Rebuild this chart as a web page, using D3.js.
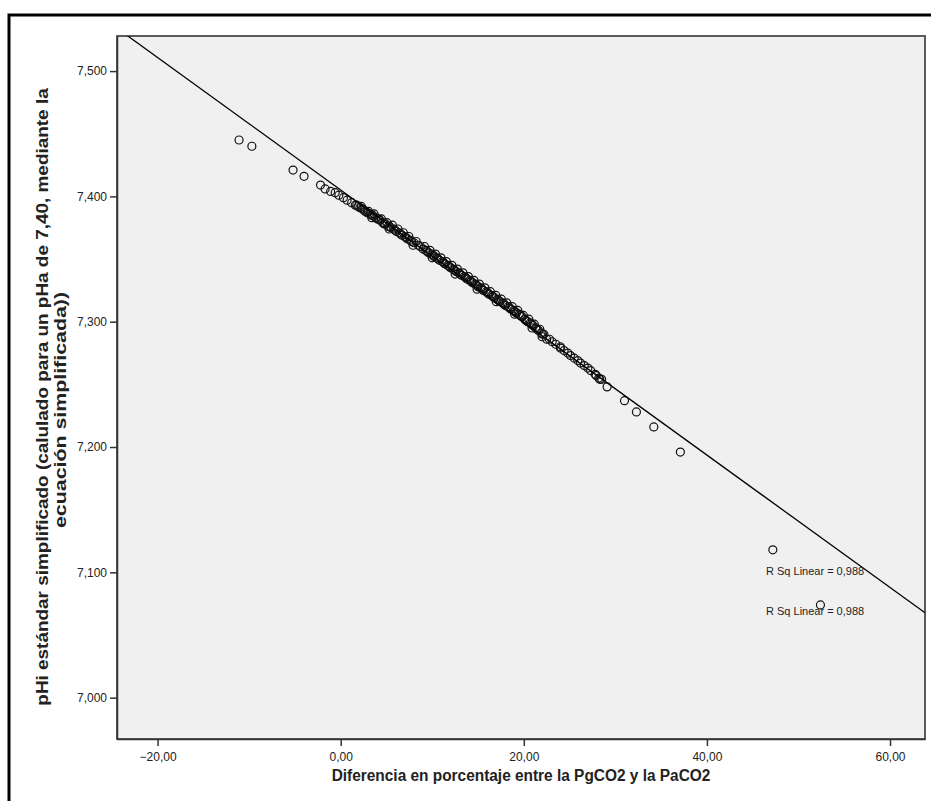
<!DOCTYPE html>
<html>
<head>
<meta charset="utf-8">
<script src="https://cdn.jsdelivr.net/npm/d3@7"></script>
<style>
  body { margin:0; background:#fff; }
  text { font-family: "Liberation Sans", Arial, sans-serif; }
</style>
</head>
<body>
<svg id="chart" width="931" height="801"></svg>
<script>
// percent difference between PgCO2 and PaCO2 (x) and simplified pHi (y)
const diffPct = [
  -11.1, -9.7, -5.2, -4.0, -2.2, -1.7, -1.1, -0.6, -0.2, 0.3, 0.7, 1.2,
  1.6, 1.9, 2.1, 2.4, 2.7, 2.9, 3.2, 3.5, 3.8, 4.0, 4.3, 4.6, 4.9, 5.2,
  5.5, 5.8, 6.1, 6.4, 6.7, 7.0, 7.3, 7.6, 8.0, 8.5, 9.0, 9.3, 9.6, 9.9,
  10.2, 10.5, 10.8, 11.1, 11.4, 11.7, 12.0, 12.3, 12.6, 12.9, 13.2, 13.5,
  13.8, 14.1, 14.4, 14.7, 15.0, 15.3, 15.6, 15.9, 16.2, 16.5, 16.8, 17.1,
  17.4, 17.7, 18.0, 18.3, 18.6, 18.9, 19.2, 19.5, 19.8, 20.1, 20.4, 20.7,
  21.0, 21.3, 21.6, 21.9, 22.2, 22.8, 23.5, 24.4, 25.1, 25.9, 26.6, 27.3,
  28.2, 28.5, 29.1, 31.0, 32.3, 34.2, 37.1, 47.2, 52.4,
  2.25, 3.05, 3.65, 4.45, 5.05, 5.65, 6.25, 6.85, 7.45, 8.25, 9.15, 9.75,
  10.35, 10.95, 11.55, 12.15, 12.75, 13.35, 13.95, 14.55, 15.15, 15.75,
  16.35, 16.95, 17.55, 18.15, 18.75, 19.35, 19.95, 20.55, 21.15, 21.75,
  3.4, 5.3, 7.9, 10.0, 12.5, 14.9, 17.0, 19.0, 20.9, 22.0, 22.5, 24.0, 26.2, 27.8,
  1.75, 2.55, 3.35, 4.15, 4.75, 5.35, 5.95, 6.55, 7.15, 7.75, 8.7, 9.45,
  10.1, 10.65, 11.25, 11.85, 12.45, 13.05, 13.65, 14.25, 14.85, 15.45,
  16.05, 16.65, 17.25, 17.85, 18.45, 19.05, 19.65, 20.25, 20.85, 21.45,
  22.05, 23.1, 24.0, 24.8, 25.5, 27.0, 27.9, 28.3
];
const pHi = [
  7.445, 7.440, 7.421, 7.416, 7.409, 7.406, 7.404, 7.403, 7.401, 7.399, 7.397, 7.395,
  7.393, 7.392, 7.391, 7.390, 7.388, 7.387, 7.386, 7.385, 7.383, 7.382, 7.381, 7.379, 7.378, 7.376,
  7.375, 7.374, 7.372, 7.371, 7.369, 7.368, 7.366, 7.365, 7.363, 7.361, 7.358, 7.357, 7.355, 7.354,
  7.352, 7.351, 7.349, 7.348, 7.346, 7.345, 7.343, 7.342, 7.340, 7.339, 7.337, 7.336,
  7.334, 7.333, 7.331, 7.330, 7.328, 7.327, 7.325, 7.324, 7.322, 7.321, 7.319, 7.318,
  7.316, 7.315, 7.313, 7.312, 7.310, 7.309, 7.307, 7.306, 7.304, 7.302, 7.300, 7.299,
  7.297, 7.295, 7.293, 7.291, 7.290, 7.286, 7.282, 7.277, 7.273, 7.269, 7.265, 7.261,
  7.255, 7.254, 7.248, 7.237, 7.228, 7.216, 7.196, 7.118, 7.074,
  7.392, 7.388, 7.386, 7.382, 7.379, 7.377, 7.374, 7.371, 7.368, 7.364, 7.360, 7.357,
  7.354, 7.351, 7.348, 7.345, 7.342, 7.339, 7.336, 7.333, 7.330, 7.327,
  7.324, 7.321, 7.318, 7.315, 7.312, 7.309, 7.305, 7.302, 7.298, 7.294,
  7.383, 7.374, 7.361, 7.351, 7.338, 7.326, 7.316, 7.306, 7.295, 7.288, 7.286, 7.279, 7.267, 7.258,
  7.393, 7.389, 7.385, 7.382, 7.378, 7.376, 7.373, 7.370, 7.367, 7.364, 7.360, 7.356,
  7.353, 7.350, 7.347, 7.344, 7.341, 7.338, 7.335, 7.332, 7.329, 7.326,
  7.323, 7.320, 7.317, 7.314, 7.311, 7.308, 7.305, 7.301, 7.298, 7.294,
  7.290, 7.284, 7.280, 7.275, 7.271, 7.263, 7.257, 7.254
];
const xTicks = [-20, 0, 20, 40, 60];
const yTicks = [7.0, 7.1, 7.2, 7.3, 7.4, 7.5];
const fit = { intercept: 7.4051, slope: -0.005287 };
const rsqLabels = ["R Sq Linear = 0,988", "R Sq Linear = 0,988"];

const P = { left:117, right:925, top:36, bottom:739 };

const x = d3.scaleLinear().domain([-24.43, 63.82]).range([P.left, P.right]);
const y = d3.scaleLinear().domain([6.967, 7.528]).range([P.bottom, P.top]);

const fmt2 = d => d3.format(".2f")(d).replace(".", ",");
const fmt3 = d => d3.format(".3f")(d).replace(".", ",");

const svg = d3.select("#chart");

// text squeezed/stretched along its run to a given length
function fitText(parent, str, size, len, tf) {
  const g = parent.append("g").attr("transform", tf);
  const t = g.append("text")
    .attr("text-anchor", "middle")
    .attr("font-size", size).attr("font-weight", "bold").attr("fill", "#222")
    .text(str);
  const w = t.node().getComputedTextLength();
  t.attr("transform", `scale(${len / w},1)`);
  return t;
}

// outer frame
svg.append("rect")
  .attr("x", 9).attr("y", 15).attr("width", 1000).attr("height", 1000)
  .attr("fill", "none").attr("stroke", "#000").attr("stroke-width", 3);

// plot area
svg.append("rect")
  .attr("x", P.left).attr("y", P.top)
  .attr("width", P.right - P.left).attr("height", P.bottom - P.top)
  .attr("fill", "#f0f0f0").attr("stroke", "#4a4a4a").attr("stroke-width", 1.8);

svg.append("clipPath").attr("id", "clip")
  .append("rect")
  .attr("x", P.left).attr("y", P.top)
  .attr("width", P.right - P.left).attr("height", P.bottom - P.top);

// axes
svg.append("g")
  .attr("transform", `translate(0,${P.bottom})`)
  .call(d3.axisBottom(x).tickValues(xTicks).tickFormat(fmt2).tickSizeInner(7).tickSizeOuter(0).tickPadding(6))
  .call(g => g.select(".domain").attr("stroke", "#333").attr("stroke-width", 1.5))
  .call(g => g.selectAll(".tick line").attr("stroke", "#333").attr("stroke-width", 1.5))
  .call(g => g.selectAll("text").attr("font-size", 12).attr("fill", "#222")
    .attr("font-family", "'Liberation Sans', Arial, sans-serif"));

svg.append("g")
  .attr("transform", `translate(${P.left},0)`)
  .call(d3.axisLeft(y).tickValues(yTicks).tickFormat(fmt3).tickSizeInner(7).tickSizeOuter(0).tickPadding(3))
  .call(g => g.select(".domain").attr("stroke", "#333").attr("stroke-width", 1.5))
  .call(g => g.selectAll(".tick line").attr("stroke", "#333").attr("stroke-width", 1.5))
  .call(g => g.selectAll("text").attr("font-size", 12).attr("fill", "#222")
    .attr("font-family", "'Liberation Sans', Arial, sans-serif"));

const plot = svg.append("g").attr("clip-path", "url(#clip)");

// points
plot.append("g")
  .selectAll("circle")
  .data(diffPct.map((d, i) => [d, pHi[i]]))
  .join("circle")
    .attr("cx", d => x(d[0]))
    .attr("cy", d => y(d[1]))
    .attr("r", 4)
    .attr("fill", "none")
    .attr("stroke", "#111")
    .attr("stroke-width", 1.2);

// fit line
const xd = x.domain();
plot.append("line")
  .attr("x1", x(xd[0])).attr("y1", y(fit.intercept + fit.slope * xd[0]))
  .attr("x2", x(xd[1])).attr("y2", y(fit.intercept + fit.slope * xd[1]))
  .attr("stroke", "#000").attr("stroke-width", 1.3);

// R sq labels
svg.selectAll("text.rsq")
  .data(rsqLabels)
  .join("text")
    .attr("class", "rsq")
    .attr("x", 766)
    .attr("y", (d, i) => 575 + i * 40)
    .attr("font-size", 11)
    .attr("fill", "#222")
    .text(d => d);

// axis titles
fitText(svg, "Diferencia en porcentaje entre la PgCO2 y la PaCO2", 17, 379,
  `translate(${(P.left + P.right) / 2},781)`);

fitText(svg, "pHi estándar simplificado (calulado para un pHa de 7,40, mediante la", 16, 618,
  "translate(48,397) rotate(-90)");
fitText(svg, "ecuación simplificada))", 16, 236,
  "translate(66,410) rotate(-90)");
</script>
</body>
</html>
